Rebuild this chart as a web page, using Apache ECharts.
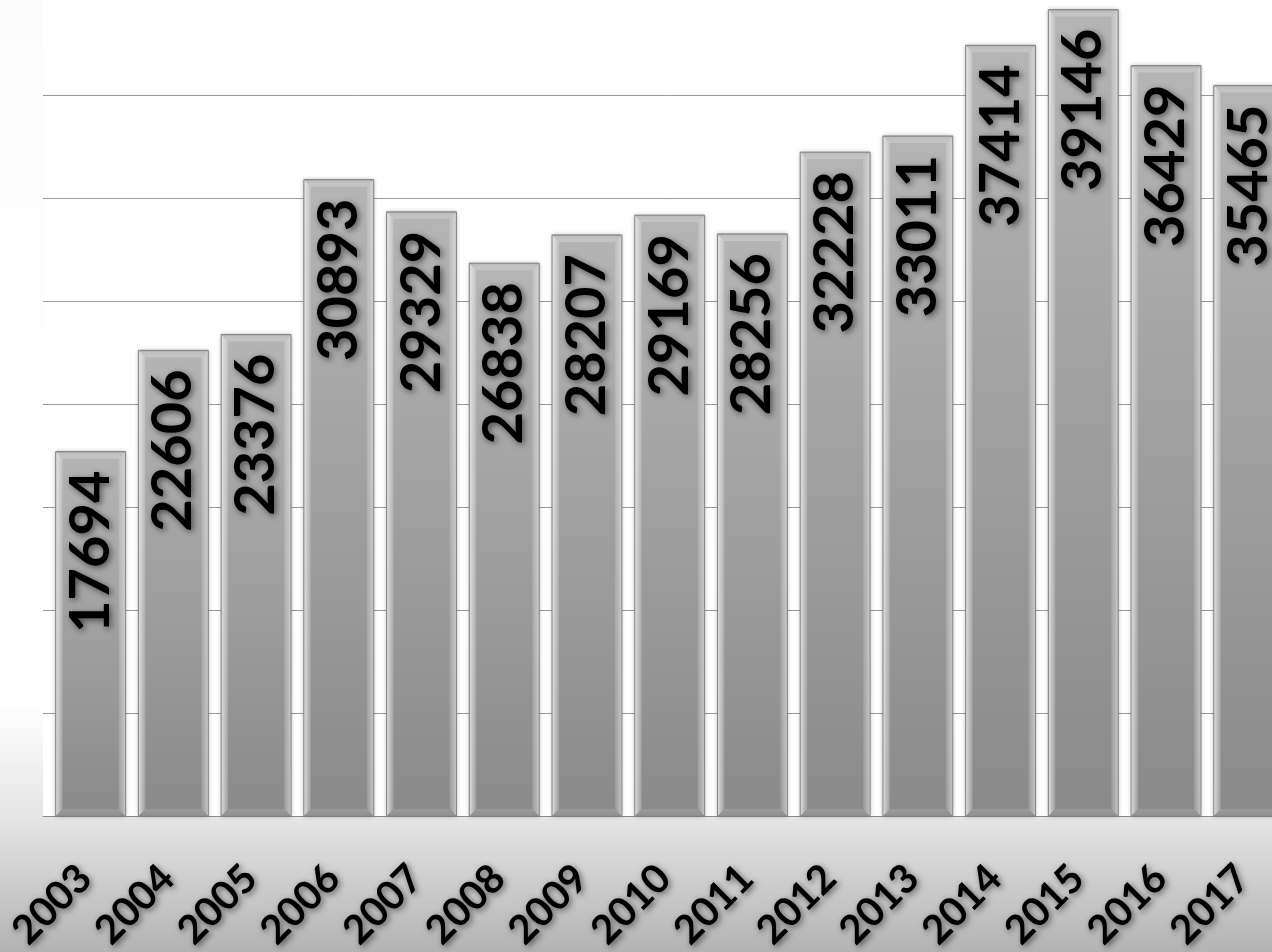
<!DOCTYPE html>
<html>
<head>
<meta charset="utf-8">
<script src="https://cdn.jsdelivr.net/npm/echarts@6/dist/echarts.min.js"></script>
<style>
html,body{margin:0;padding:0;background:#fff;overflow:hidden;width:1272px;height:952px;position:relative;}
#chart{position:absolute;left:0;top:-18px;width:1300px;height:970px;}
</style>
</head>
<body>
<div id="chart"></div>
<script>
const years = ['2003','2004','2005','2006','2007','2008','2009','2010','2011','2012','2013','2014','2015','2016','2017'];
const values = [17694, 22606, 23376, 30893, 29329, 26838, 28207, 29169, 28256, 32228, 33011, 37414, 39146, 36429, 35465];
const yMin = 0, yMax = 40000, yStep = 5000;

const chart = echarts.init(document.getElementById('chart'), null, {renderer: 'canvas'});
const FONT = 'Lato, "Open Sans", sans-serif';
const BAR_FRAC = 0.845;

function bevelItem(params, api) {
  const xi = api.value(0), v = api.value(1);
  const top = api.coord([xi, v]);
  const base = api.coord([xi, 0]);
  const bw = api.size([1, 0])[0] * BAR_FRAC;
  const x0 = top[0] - bw / 2, x1 = top[0] + bw / 2, y0 = top[1], y1 = base[1];
  const b = 7;
  const G = echarts.graphic;
  return {
    type: 'group',
    children: [
      {type: 'polygon', shape: {points: [[x0, y0], [x1, y0], [x1 - b, y0 + b], [x0 + b, y0 + b]]},
       style: {fill: 'rgba(255,255,255,0.22)'}},
      {type: 'polygon', shape: {points: [[x0, y0], [x0 + b, y0 + b], [x0 + b, y1 - b], [x0, y1]]},
       style: {fill: new G.LinearGradient(0, 0, 1, 0, [
         {offset: 0, color: 'rgba(255,255,255,0.75)'}, {offset: 1, color: 'rgba(255,255,255,0.15)'}])}},
      {type: 'polygon', shape: {points: [[x1, y0], [x1, y1], [x1 - b, y1 - b], [x1 - b, y0 + b]]},
       style: {fill: new G.LinearGradient(0, 0, 1, 0, [
         {offset: 0, color: 'rgba(255,255,255,0.12)'}, {offset: 1, color: 'rgba(255,255,255,0.55)'}])}},
      {type: 'polygon', shape: {points: [[x0, y1], [x0 + b, y1 - b], [x1 - b, y1 - b], [x1, y1]]},
       style: {fill: 'rgba(255,255,255,0.12)'}},
      {type: 'rect', shape: {x: x0, y: y0, width: bw, height: y1 - y0},
       style: {fill: 'none', stroke: '#868686', lineWidth: 1}}
    ]
  };
}

const option = {
  animation: false,
  backgroundColor: new echarts.graphic.LinearGradient(0, 0, 0, 1, [
    {offset: 0, color: '#fbfbfb'},
    {offset: 0.13, color: '#fdfdfd'},
    {offset: 0.745, color: '#ffffff'},
    {offset: 0.865, color: '#e4e4e4'},
    {offset: 1, color: '#b3b3b3'}
  ]),
  grid: [
    {left: 43, right: 9.9, top: 10, bottom: 136, show: true, backgroundColor: '#ffffff', borderWidth: 0,
     containLabel: false, outerBoundsMode: 'none'},
    {left: 49.3, right: 9.9, top: 10, bottom: 136, containLabel: false, outerBoundsMode: 'none'}
  ],
  xAxis: [
    {type: 'value', gridIndex: 0, min: 0, max: 1, axisLabel: {show: false}, axisTick: {show: false},
     splitLine: {show: false}, axisLine: {show: true, onZero: false, lineStyle: {color: '#8a8a8a', width: 1}}},
    {type: 'category', gridIndex: 1, data: years, axisLine: {show: false}, axisTick: {show: false},
     axisLabel: {rotate: 45, margin: 50, fontSize: 40, fontWeight: 'bold', fontFamily: FONT, color: '#000',
       padding: [0, 8, 0, 0],
       textShadowColor: 'rgba(0,0,0,0.55)', textShadowBlur: 6, textShadowOffsetX: 2, textShadowOffsetY: 2, interval: 0}}
  ],
  yAxis: [
    {type: 'value', gridIndex: 0, min: yMin, max: yMax, interval: yStep, axisLabel: {show: false},
     axisLine: {show: false}, axisTick: {show: false}, splitLine: {show: true, lineStyle: {color: '#9a9a9a', width: 1}}},
    {type: 'value', gridIndex: 1, min: yMin, max: yMax, interval: yStep, show: false, splitLine: {show: false}}
  ],
  series: [
    {
      type: 'bar', xAxisIndex: 1, yAxisIndex: 1, data: values, barCategoryGap: '15.5%', barGap: '-100%',
      z: 2,
      itemStyle: {
        color: new echarts.graphic.LinearGradient(0, 0, 0, 1, [
          {offset: 0, color: '#b5b5b5'},
          {offset: 1, color: '#8a8a8a'}
        ]),
        borderColor: '#868686', borderWidth: 1,
        shadowColor: 'rgba(0,0,0,0.25)', shadowBlur: 4
      },
      silent: true
    },
    {
      type: 'custom', xAxisIndex: 1, yAxisIndex: 1, z: 3, silent: true,
      data: values.map((v, i) => [i, v]),
      encode: {x: 0, y: 1},
      renderItem: bevelItem
    },
    {
      type: 'bar', xAxisIndex: 1, yAxisIndex: 1, data: values, barCategoryGap: '15.5%', barGap: '-100%',
      z: 4,
      itemStyle: {color: 'rgba(0,0,0,0)'},
      label: {
        show: true, position: 'insideTop', rotate: 90, align: 'right', verticalAlign: 'middle', distance: 19,
        fontSize: 56, fontWeight: 'bold', fontFamily: FONT, color: '#000',
        textShadowColor: 'rgba(0,0,0,0.55)', textShadowBlur: 6, textShadowOffsetX: 2, textShadowOffsetY: 2
      },
      silent: true
    }
  ]
};
chart.setOption(option);
</script>
</body>
</html>
